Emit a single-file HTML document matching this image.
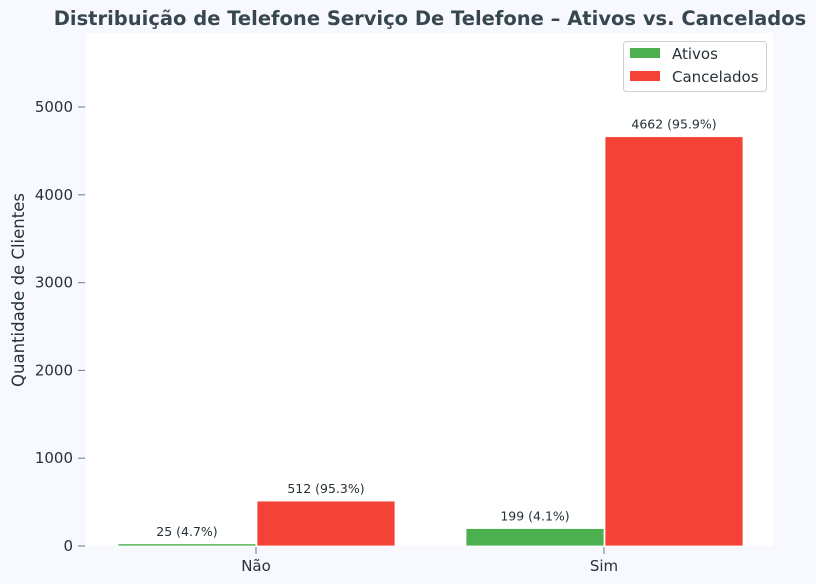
<!DOCTYPE html>
<html><head><meta charset="utf-8"><style>
body{margin:0;background:#f8f9fe;}
svg{display:block;font-family:"DejaVu Sans","Liberation Sans",sans-serif;}
</style></head><body>
<svg id="c" width="816" height="584">
<rect x="0" y="0" width="816" height="584" fill="#f8f9fe"/>
<rect x="86" y="33" width="687" height="513" fill="#ffffff"/>
<text x="430" y="25" text-anchor="middle" font-size="19.5" font-weight="bold" fill="#37474f">Distribuição de Telefone Serviço De Telefone – Ativos vs. Cancelados</text>
<text transform="translate(24,290) rotate(-90)" text-anchor="middle" font-size="16.5" fill="#263238">Quantidade de Clientes</text>
<g id="yaxis"></g>
<g id="xaxis"></g>
<g id="bars"></g>
<g>
<rect x="623.5" y="41.5" width="143" height="50" rx="3" fill="#fff" stroke="#d0d0d0"/>
<rect x="630" y="48" width="30" height="10" fill="#4caf50"/>
<text x="672" y="59" font-size="15" fill="#263238">Ativos</text>
<rect x="630" y="71" width="30" height="10" fill="#f44336"/>
<text x="672" y="82" font-size="15" fill="#263238">Cancelados</text>
</g>
</svg>
<script>
const categories=["Não","Sim"];
const ativos=[25,199];
const cancelados=[512,4662];
const ativosPct=["4.7%","4.1%"];
const canceladosPct=["95.3%","95.9%"];
const yTicks=[0,1000,2000,3000,4000,5000];
const NS="http://www.w3.org/2000/svg";
const y0=546,pxPer=439/5000;
const yScale=v=>y0-v*pxPer;
const xScale=i=>256+i*348;
const bw=138;
function mk(t,a,p){const e=document.createElementNS(NS,t);for(const k in a)e.setAttribute(k,a[k]);p.appendChild(e);return e;}
const ya=document.getElementById('yaxis'),xa=document.getElementById('xaxis'),bg=document.getElementById('bars');
yTicks.forEach(v=>{const y=yScale(v);
 const l=mk('line',{x1:78,x2:85,y1:y,y2:y,stroke:'#78909c','stroke-width':1.2},ya);
 
 
 const t=mk('text',{x:73,y:y+5,'text-anchor':'end','font-size':15,fill:'#263238'},ya);t.textContent=v;
 
 
});
categories.forEach((c,i)=>{const x=xScale(i);
 const l=mk('line',{x1:x,x2:x,y1:547,y2:554,stroke:'#78909c','stroke-width':1.2},xa);
 
 
 const t=mk('text',{x:x,y:571,'text-anchor':'middle','font-size':15,fill:'#263238'},xa);t.textContent=c;
 
 
 [[ativos,ativosPct,'#4caf50',-1,'ativos'],[cancelados,canceladosPct,'#f44336',0,'cancelados']].forEach(([vals,pcts,col,off,nm])=>{
  const bx=x+off*bw+(off===0?1:0),top=yScale(vals[i]);
  const r=mk('rect',{x:bx,y:top,width:bw,height:y0-top,fill:col,stroke:'#fff','stroke-width':0.8},bg);
  
  
  const t2=mk('text',{x:bx+bw/2,y:top-8,'text-anchor':'middle','font-size':12.5,fill:'#263238'},bg);
  t2.textContent=vals[i]+' ('+pcts[i]+')';
  
  
 });
});
</script>
</body></html>
